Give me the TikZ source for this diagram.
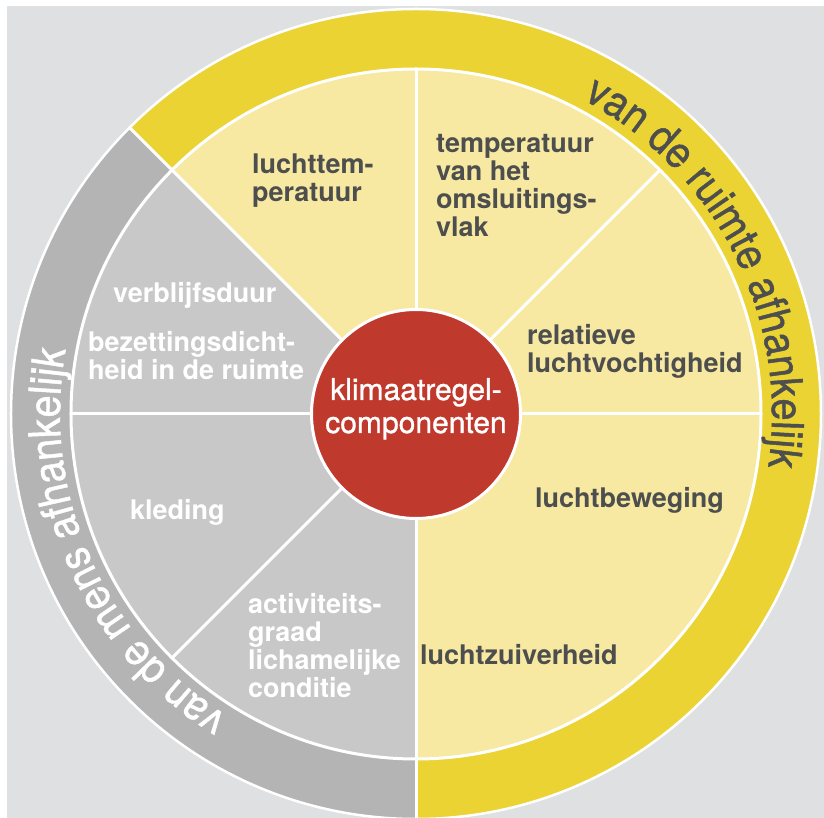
\documentclass[tikz,border=0pt]{standalone}
\usepackage{fontspec}
\setmainfont{TeX Gyre Heros}
\newfontfamily\ringfont{TeX Gyre Heros}[FakeStretch=0.9, FakeBold=1]
\newfontfamily\kernfont{TeX Gyre Heros}[FakeBold=1]
\usepackage{xcolor}
\usepackage{tikz}
\usetikzlibrary{
    positioning,
    decorations.text
}

\definecolor{achtergrond}{RGB}{223,224,225}
\definecolor{ringgeel}{RGB}{235,211,52}
\definecolor{vakgeel}{RGB}{247,232,162}
\definecolor{ringgrijs}{RGB}{180,180,180}
\definecolor{vakgrijs}{RGB}{200,200,200}
\definecolor{kernrood}{RGB}{192,57,45}
\definecolor{tekstgrijs}{RGB}{77,78,78}

\newcommand{\ringletter}{\ringfont\fontsize{44}{44}\selectfont}

\tikzset{
    vaklabel/.style={anchor=base west, align=left, inner sep=0pt,
        font=\bfseries\fontsize{27}{28}\selectfont},
    geellabel/.style={vaklabel, text=tekstgrijs},
    grijslabel/.style={vaklabel, text=white},
    scheiding/.style={white, line width=3pt}
}

\begin{document}
\begin{tikzpicture}[x=1pt, y=1pt]
    \useasboundingbox (-416,-404) rectangle (408,414);
    \fill[white] (-416,-404) rectangle (408,414);
    \fill[achtergrond] (-409,-404) rectangle (408,408);
    % buitenring: geel rechts, grijs links
    \fill[ringgeel] (135:405) arc[start angle=135, end angle=-90, radius=405pt]
        -- (-90:345) arc[start angle=-90, end angle=135, radius=345pt] -- cycle;
    \fill[ringgrijs] (135:405) arc[start angle=135, end angle=270, radius=405pt]
        -- (270:345) arc[start angle=270, end angle=135, radius=345pt] -- cycle;
    % taartvakken
    \fill[vakgeel] (0,0) -- (-90:345) arc[start angle=-90, end angle=135, radius=345pt] -- cycle;
    \fill[vakgrijs] (0,0) -- (135:345) arc[start angle=135, end angle=270, radius=345pt] -- cycle;
    \draw[white, line width=2.5pt] (0,0) circle[radius=405pt];
    \draw[scheiding] (0,0) circle[radius=345pt];
    \foreach \hoek in {0,45,90,180,225}
        \draw[scheiding] (0,0) -- (\hoek:345);
    \foreach \hoek in {135,270}
        \draw[scheiding] (0,0) -- (\hoek:406);
    % kern
    \node[circle, fill=kernrood, draw=white, line width=3pt, minimum size=209pt, inner sep=0pt] (kern) at (0,0) {};
    \node[anchor=base, align=center, inner sep=0pt, text=white,
        font=\kernfont\fontsize{30}{33}\selectfont] (kerntekst) at ([yshift=-19pt]kern.center)
        {klimaatregel-\\componenten};
    % labels in de vakken (anker op de basislijn van de laatste regel)
    \node[geellabel] (luchttemp) at (-164,212) {luchttem-\\peratuur};
    \node[geellabel] (wandtemp) at (20,177) {temperatuur\\van het\\omsluitings-\\vlak};
    \node[geellabel] (vocht) at (111,41) {relatieve\\luchtvochtigheid};
    \node[geellabel] (beweging) at (119,-94) {luchtbeweging};
    \node[geellabel] (zuiverheid) at (4,-251) {luchtzuiverheid};
    \node[grijslabel] (verblijf) at (-303,111) {verblijfsduur};
    \node[grijslabel] (bezetting) at (-328,34) {bezettingsdicht-\\heid in de ruimte};
    \node[grijslabel] (kleding) at (-286,-106) {kleding};
    \node[grijslabel] (activiteit) at (-168,-283) {activiteits-\\graad\\lichamelijke\\conditie};
    % tekst langs de ring
    \path[decorate, decoration={text along path,
        text={|\ringletter\color{tekstgrijs}|van de ruimte afhankelijk}}]
        (62:356) arc[start angle=62, end angle=-25, radius=356pt];
    \path[decorate, decoration={text along path,
        text={|\ringletter\color{white}|van de mens afhankelijk}}]
        (238:356) arc[start angle=238, end angle=150, radius=356pt];
\end{tikzpicture}
\end{document}
